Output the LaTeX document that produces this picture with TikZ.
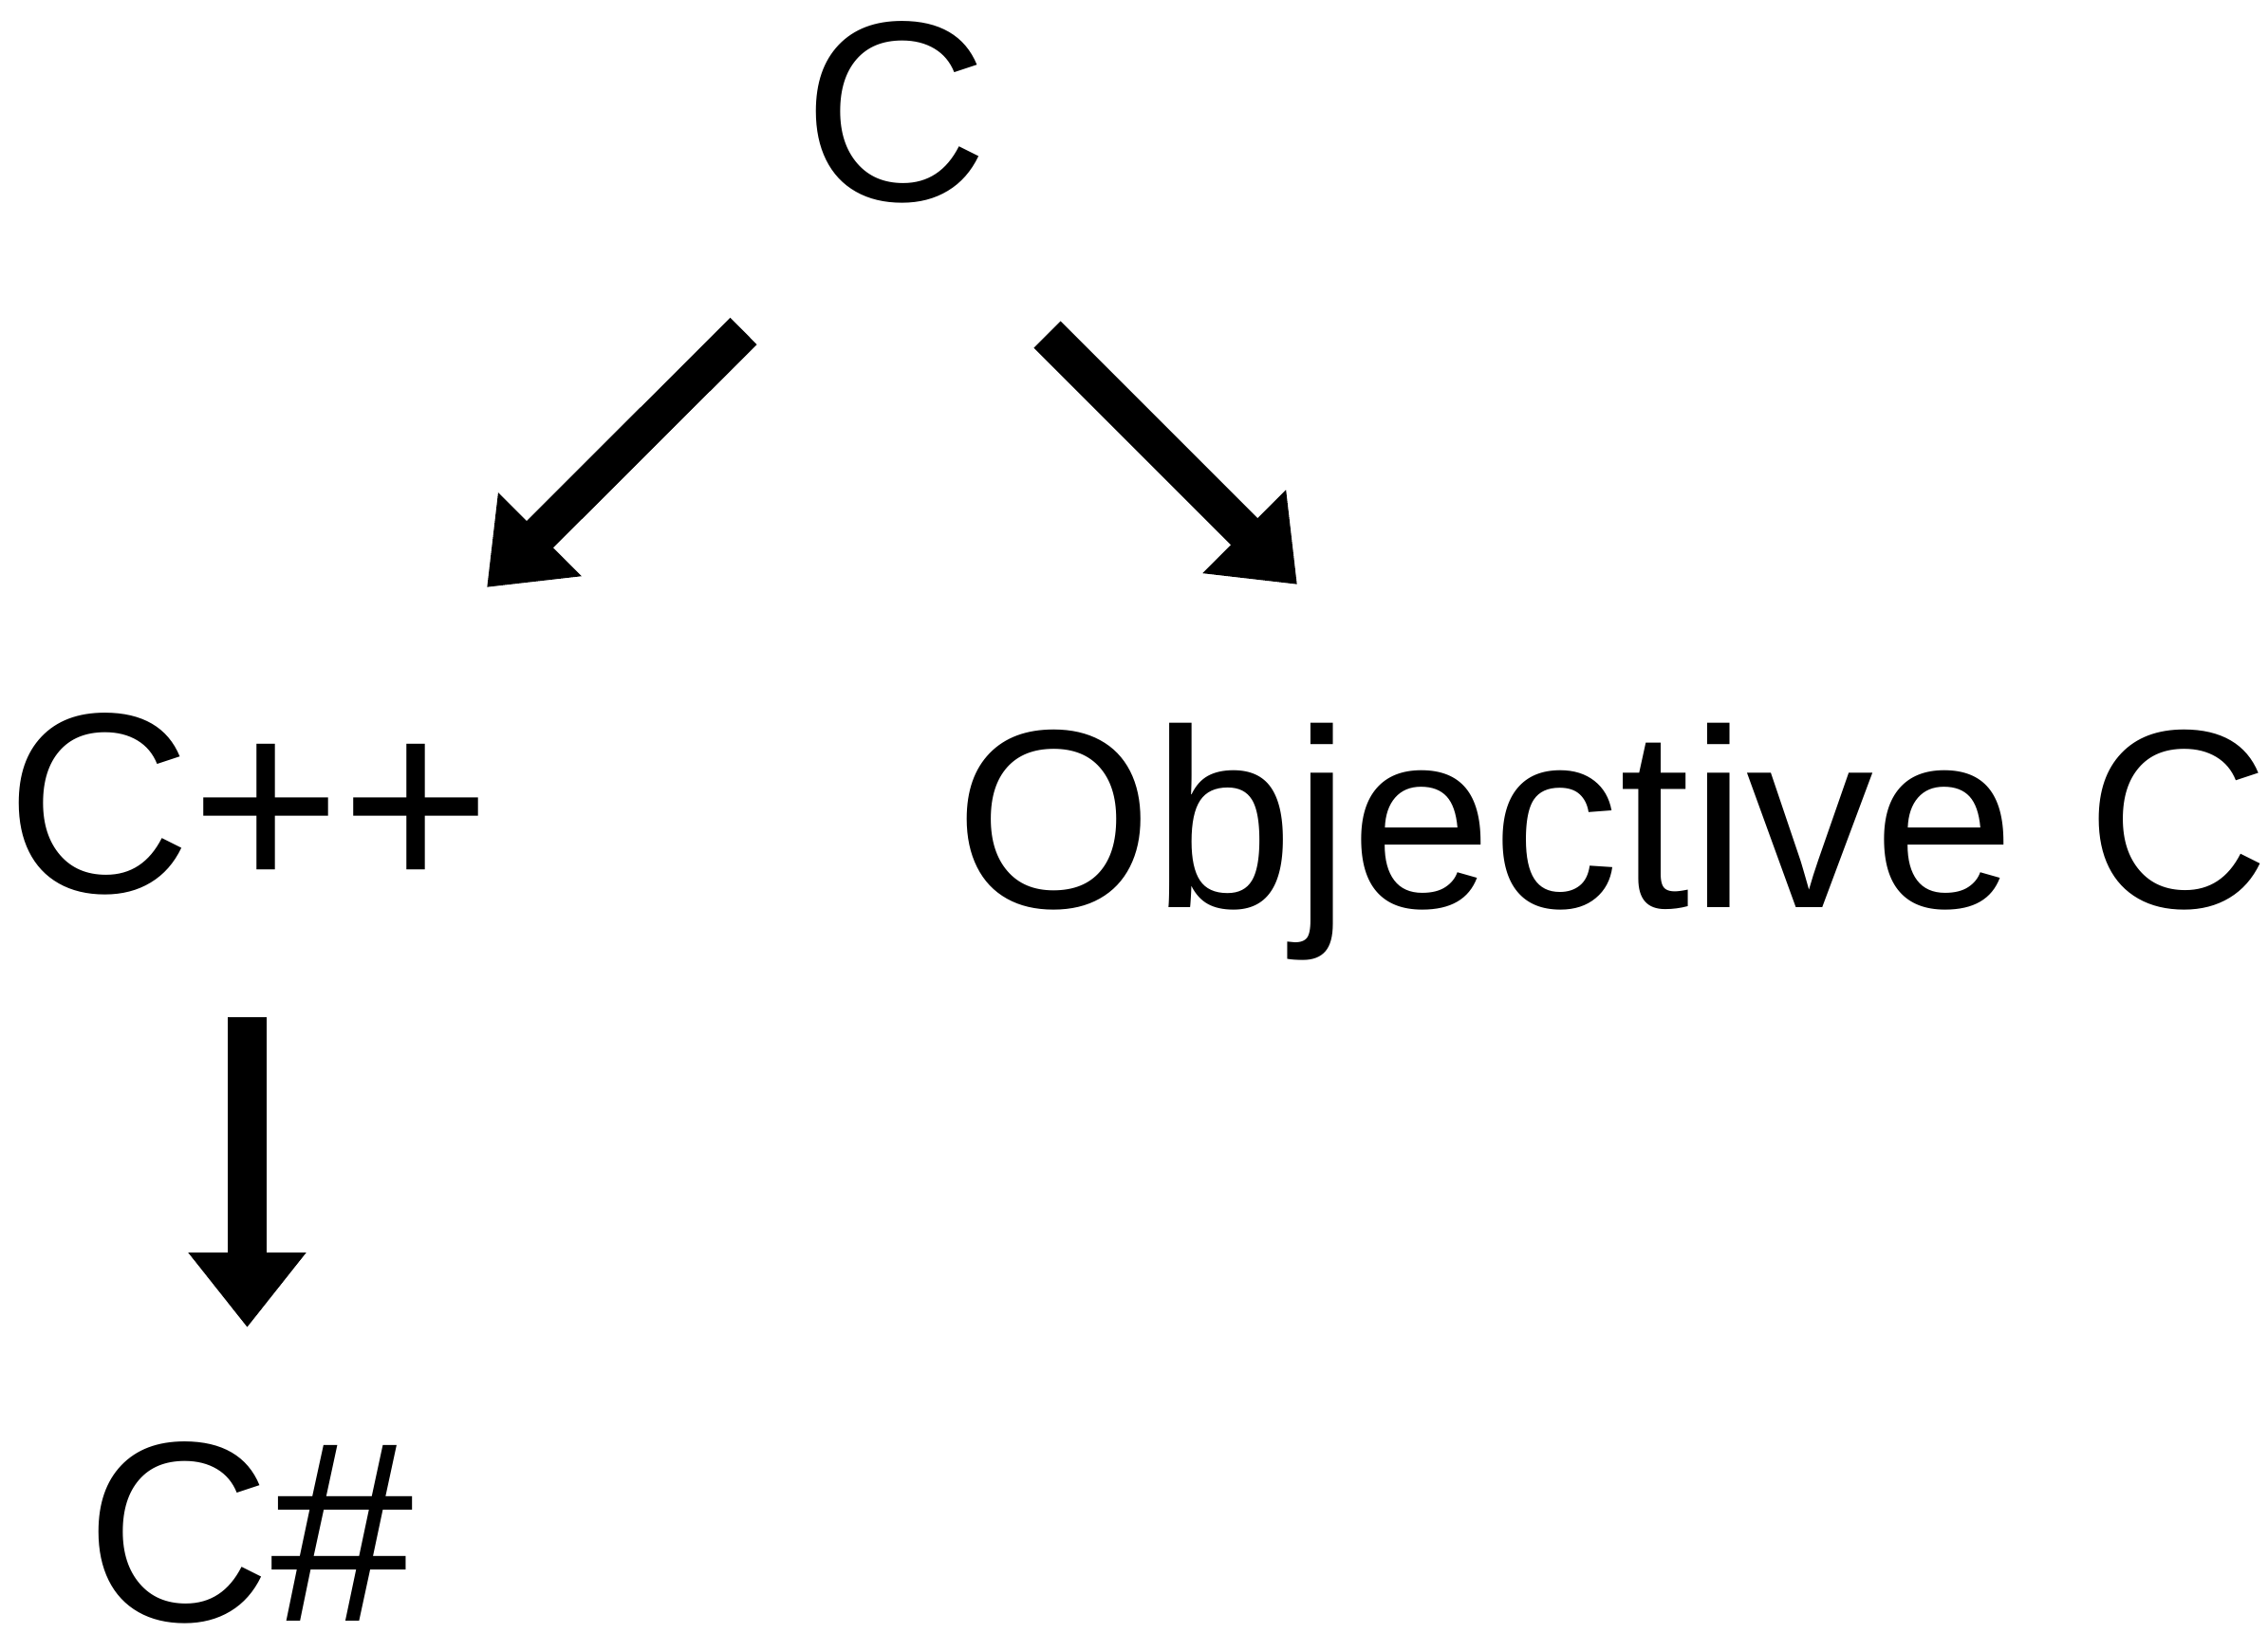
\documentclass[tikz,border=0pt]{standalone}
\usepackage{fontspec}
\setmainfont{Liberation Sans}
\usetikzlibrary{arrows.meta}
\begin{document}
\begin{tikzpicture}[x=1cm,y=1cm,
  lbl/.style={anchor=base,inner sep=0pt,font=\fontsize{77}{90}\selectfont},
  bigarrow/.style={line width=11.3pt,-{Triangle[width=1.19cm,length=0.79cm]}}]
\useasboundingbox (0,0) rectangle (23.90,-17.21);
\node[lbl] (c) at (9.44,-2.12) {C};
\node[lbl] (cpp) at (2.62,-9.40) {C++};
\node[lbl] (objc) at (16.99,-9.56) {\fontsize{76.3}{90}\selectfont Objective C};
\node[lbl] (cs) at (2.63,-17.08) {C\#};
\coordinate (l1) at (7.835,-3.49);
\coordinate (l2) at (5.13,-6.19);
\coordinate (r1) at (11.035,-3.525);
\coordinate (r2) at (13.67,-6.16);
\coordinate (d1) at (2.605,-10.72);
\coordinate (d2) at (2.605,-13.99);
\draw[bigarrow] (l1) -- (l2);
\draw[bigarrow] (r1) -- (r2);
\draw[bigarrow,line width=11.6pt] (d1) -- (d2);
\end{tikzpicture}
\end{document}
